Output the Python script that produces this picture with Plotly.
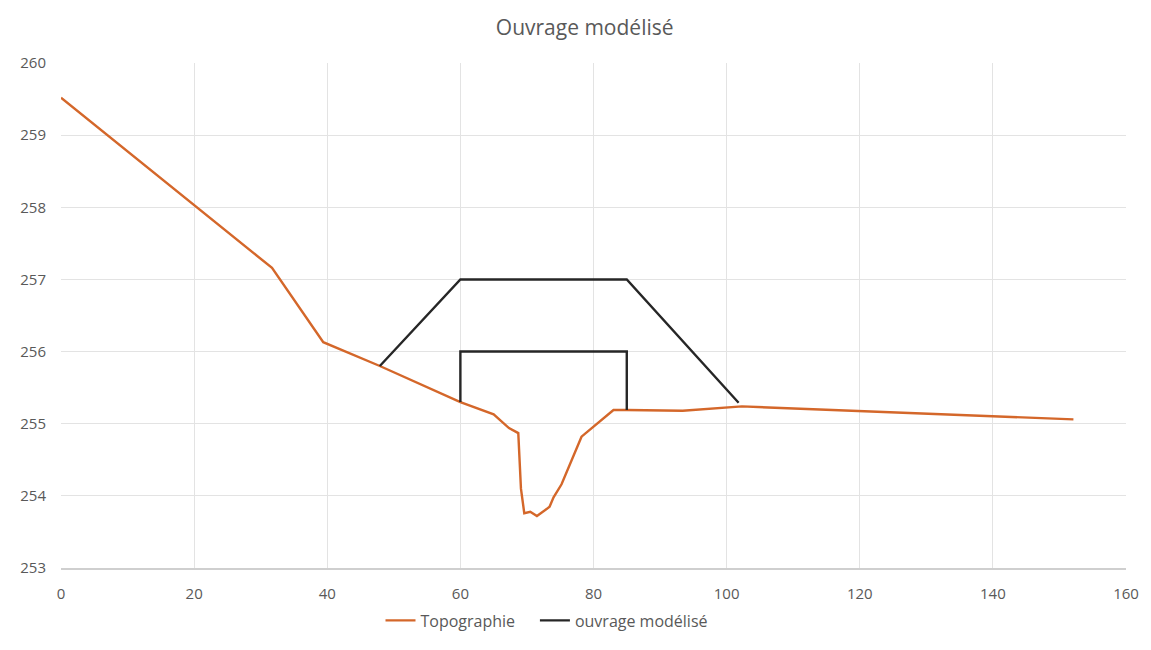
import plotly.graph_objects as go

# Terrain profile (distance in m, elevation in m)
topo_x = [0, 31.7, 39.4, 47.9, 60.0, 65.0, 67.3, 68.7, 69.1, 69.6, 70.5, 71.5,
          73.0, 73.4, 74.0, 75.2, 78.2, 83.0, 85.0, 93.4, 102.3, 152.1]
topo_y = [259.52, 257.16, 256.13, 255.80, 255.30, 255.13, 254.94, 254.87, 254.10,
          253.76, 253.78, 253.72, 253.82, 253.85, 253.98, 254.16, 254.82, 255.19,
          255.19, 255.18, 255.24, 255.06]

# Modelled structure: embankment outline, then culvert box
ouvrage_x = [47.9, 60.0, 85.0, 101.8, None, 60.0, 60.0, 85.0, 85.0]
ouvrage_y = [255.80, 257.0, 257.0, 255.29, None, 255.30, 256.0, 256.0, 255.19]

x_ticks = [0, 20, 40, 60, 80, 100, 120, 140, 160]
y_ticks = [253, 254, 255, 256, 257, 258, 259, 260]

font_family = "Open Sans, Liberation Sans, sans-serif"
text_color = "#595959"
grid_color = "#E3E3E3"

fig = go.Figure()
fig.add_trace(go.Scatter(
    x=topo_x, y=topo_y, mode="lines", name="Topographie",
    line=dict(color="#D4672A", width=2.4), legend="legend",
))
fig.add_trace(go.Scatter(
    x=ouvrage_x, y=ouvrage_y, mode="lines", name="ouvrage modélisé",
    line=dict(color="#262626", width=2.4), connectgaps=False, legend="legend2",
))

legend_style = dict(orientation="h", xanchor="left", y=-0.104, yanchor="middle",
                    font=dict(size=16, color=text_color), itemwidth=30,
                    bgcolor="rgba(0,0,0,0)")

fig.update_layout(
    width=1151, height=650,
    margin=dict(l=61, r=18, t=63, b=69),
    paper_bgcolor="white", plot_bgcolor="white",
    font=dict(family=font_family, color=text_color, size=15),
    title=dict(text="Ouvrage modélisé", x=0.508, xanchor="center",
               y=1 - 28 / 650, yanchor="middle",
               font=dict(size=21, color=text_color, family=font_family)),
    showlegend=True,
    legend=dict(x=0.300, **legend_style),
    legend2=dict(x=0.445, **legend_style),
)
fig.update_xaxes(
    range=[0, 160], tickvals=x_ticks, ticktext=[str(v) for v in x_ticks],
    showgrid=True, gridcolor=grid_color, gridwidth=1,
    zeroline=False, showline=True, linecolor="#CFCFCF", linewidth=1.5,
    ticks="", ticklabelstandoff=11, tickfont=dict(size=15, color=text_color),
)
fig.update_yaxes(
    range=[253, 260], tickvals=y_ticks, ticktext=[str(v) for v in y_ticks],
    showgrid=True, gridcolor=grid_color, gridwidth=1,
    zeroline=False, showline=False,
    ticks="", ticklabelstandoff=14, tickfont=dict(size=15, color=text_color),
)

fig.write_html("out.html")
